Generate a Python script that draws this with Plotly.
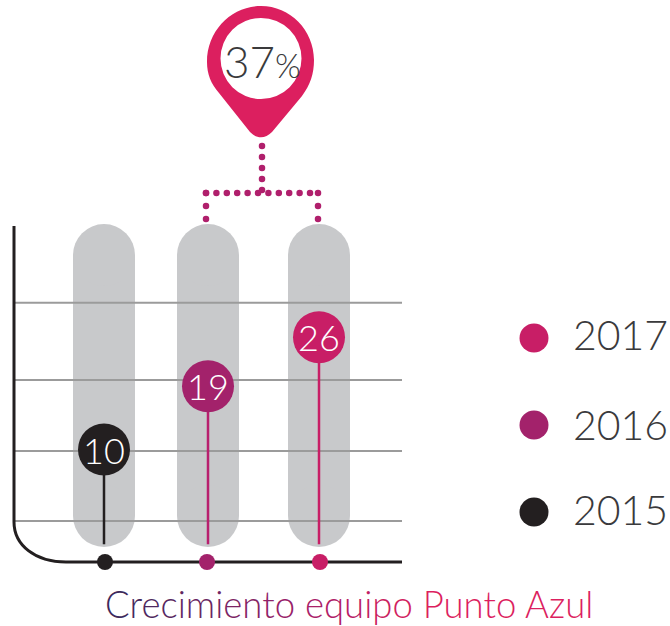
import plotly.graph_objects as go
import numpy as np

# ---- data ----
years = ["2015", "2016", "2017"]
values = [10, 19, 26]
growth_label = "37"
grid_levels = [-0.2, 9.8, 19.9, 30.9]
pill_top = 37.7
pill_bottom = 0.53
stem_bottom = -3.5

# ---- category placement and style ----
x_pos = [104, 208, 319]
year_colors = ["#231f20", "#a3226b", "#c81e66"]
stem_colors = ["#231f20", "#b81f6e", "#c81e66"]
legend_y = [512, 425, 338]
legend_text_y = [509, 424, 334]
FONT = "Lato"
WEIGHT = 300
TEXT = "#3a3a3c"

fig = go.Figure()

# grey pills (bar body + round caps)
fig.add_trace(go.Bar(x=x_pos, y=[pill_top - pill_bottom] * 3, base=[pill_bottom] * 3, width=62,
                     marker=dict(color="#c8c9cb", line=dict(width=0)), hoverinfo="skip", showlegend=False))
for lvl in (pill_top, pill_bottom):
    fig.add_trace(go.Scatter(x=x_pos, y=[lvl] * 3, mode="markers",
                             marker=dict(size=62, color="#c8c9cb", line=dict(width=0)),
                             cliponaxis=False, showlegend=False, hoverinfo="skip"))
# grid lines on top of the pills
for g in grid_levels:
    fig.add_trace(go.Scatter(x=[14, 402], y=[g, g], mode="lines",
                             line=dict(color="#9b9b9b", width=2), showlegend=False, hoverinfo="skip"))
# stems
for x, v, c in zip(x_pos, values, stem_colors):
    fig.add_trace(go.Scatter(x=[x, x], y=[stem_bottom, v], mode="lines",
                             line=dict(color=c, width=2.5), showlegend=False, hoverinfo="skip"))
# value bubbles
fig.add_trace(go.Scatter(x=x_pos, y=values, mode="markers",
                         marker=dict(size=52, color=year_colors, line=dict(width=0)),
                         cliponaxis=False, showlegend=False, hoverinfo="skip"))

# ---- overlay in canvas units for the decoration ----
ov = dict(xaxis="x2", yaxis="y2", showlegend=False, hoverinfo="skip", cliponaxis=False)
# baseline dots
fig.add_trace(go.Scatter(x=[105, 207, 320], y=[562] * 3, mode="markers",
                         marker=dict(size=16, color=year_colors, line=dict(width=0)), **ov))
# dotted connector
dx, dy = [], []
for xs, ys in [(np.full(5, 262), np.arange(146, 192, 11)),
               (np.arange(206, 320, 10.4), np.full(11, 193)),
               (np.full(3, 206), np.arange(193, 220, 13)),
               (np.full(3, 318), np.arange(193, 220, 13))]:
    dx += list(xs); dy += list(ys)
fig.add_trace(go.Scatter(x=dx, y=dy, mode="markers", marker=dict(size=6.5, color="#b01f6c", line=dict(width=0)), **ov))
# legend
fig.add_trace(go.Scatter(x=[534] * 3, y=legend_y, mode="markers",
                         marker=dict(size=29, color=year_colors, line=dict(width=0)), **ov))

ref = dict(xref="x2", yref="y2")
# axis line with the rounded corner
axis_path = "M 14 226 L 14 522 C 14 545 35 562 66 562 L 402 562"
pin_path = ("M 207 62 C 207 30 232 6 261 6 C 290 6 314 30 314 60 C 314 74 310 85 302 96 "
            "L 272 132 C 265 139 257 139 250 132 L 219 93 C 211 84 207 74 207 62 Z")
shapes = [
    dict(type="path", path=axis_path, line=dict(color="#231f20", width=3), layer="below", **ref),
    dict(type="path", path=pin_path, fillcolor="#dc1f5f", line=dict(width=0), layer="above", **ref),
    dict(type="circle", x0=220.5, x1=301.5, y0=18, y1=99, fillcolor="white", line=dict(width=0), layer="above", **ref),
]

annotations = [
    dict(x=262, y=61, text=f"{growth_label}<span style='font-size:33px'>%</span>", showarrow=False,
         font=dict(family=FONT, size=44, color=TEXT, weight=WEIGHT), **ref),
]
for x, v in zip(x_pos, values):
    annotations.append(dict(x=x, y=v, xref="x", yref="y", text=str(v), showarrow=False,
                            font=dict(family=FONT, size=36, color="white", weight=WEIGHT)))
for yr, c, yy in zip(years, year_colors, legend_text_y):
    annotations.append(dict(x=571, y=yy, text=yr, showarrow=False, xanchor="left",
                            font=dict(family=FONT, size=41, color=TEXT, weight=WEIGHT), **ref))

# title with the colour running from indigo to crimson
title = "Crecimiento equipo Punto Azul"
c0, c1, c2 = np.array([0x3d, 0x2a, 0x5c]), np.array([0xa3, 0x22, 0x6b]), np.array([0xdc, 0x1f, 0x5f])
spans = []
n = len(title)
for i, ch in enumerate(title):
    t = i / (n - 1)
    col = c0 + (c1 - c0) * t / 0.4 if t < 0.4 else c1 + (c2 - c1) * min((t - 0.4) / 0.25, 1)
    spans.append(f"<span style='color:rgb({int(col[0])},{int(col[1])},{int(col[2])})'>{ch}</span>")
annotations.append(dict(x=349, y=604, text="".join(spans), showarrow=False,
                        font=dict(family=FONT, size=36.5, weight=WEIGHT), **ref))

hidden = dict(showgrid=False, zeroline=False, showticklabels=False, ticks="", showline=False, fixedrange=True)
fig.update_layout(
    width=670, height=626, autosize=False, margin=dict(l=0, r=0, t=0, b=0),
    paper_bgcolor="white", plot_bgcolor="rgba(0,0,0,0)", showlegend=False,
    xaxis=dict(domain=[14 / 670, 402 / 670], range=[14, 402], **hidden),
    yaxis=dict(domain=[(626 - 562) / 626, (626 - 226) / 626],
               range=[(519.7 - 562) / 7.02, (519.7 - 226) / 7.02], **hidden),
    xaxis2=dict(domain=[0, 1], range=[0, 670], anchor="y2", **hidden),
    yaxis2=dict(domain=[0, 1], range=[626, 0], anchor="x2", **hidden),
    shapes=shapes, annotations=annotations,
)
fig.write_html("out.html", config=dict(displayModeBar=False),
               post_script="document.body.style.margin='0';document.body.style.overflow='hidden';")
